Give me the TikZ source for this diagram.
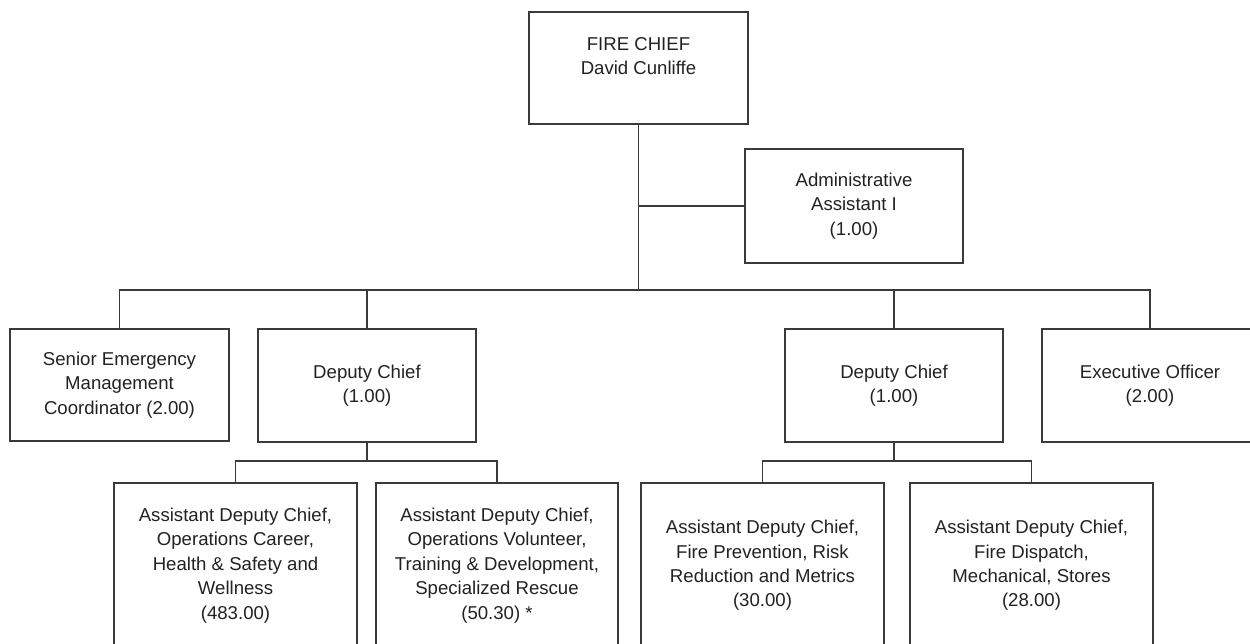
\documentclass[tikz,border=0pt]{standalone}
\usepackage{fontspec}
\setmainfont{Liberation Sans}
\definecolor{linec}{HTML}{3A3A3A}
\definecolor{textc}{HTML}{222222}
\begin{document}
\begin{tikzpicture}[x=1pt,y=-1pt,
  box/.style={draw=linec, line width=1.6pt, fill=white, inner sep=0pt, align=center,
    font=\fontsize{18.6}{24.4}\selectfont, text=textc},
  conn/.style={draw=linec, line width=1.6pt}]
\clip (0,0) rectangle (1250,644);
\fill[white] (0,0) rectangle (1250,644);
% nodes
\node[box, minimum width=219pt, minimum height=112pt] (chief) at (638.5,68) {FIRE CHIEF\\David Cunliffe\\\mbox{}};
\node[box, minimum width=218pt, minimum height=114pt] (admin) at (854,206) {Administrative\\Assistant I\\(1.00)};
\node[box, minimum width=219pt, minimum height=112pt] (senior) at (119.5,385) {Senior Emergency\\Management\\Coordinator (2.00)};
\node[box, minimum width=218pt, minimum height=113pt] (depL) at (367,385.5) {Deputy Chief\\(1.00)};
\node[box, minimum width=218pt, minimum height=113pt] (depR) at (894,385.5) {Deputy Chief\\(1.00)};
\node[box, minimum width=216pt, minimum height=113pt] (exec) at (1150,385.5) {Executive Officer\\(2.00)};
\node[box, minimum width=243pt, minimum height=165pt] (b1) at (235.5,565.5) {Assistant Deputy Chief,\\Operations Career,\\Health \& Safety and\\Wellness\\(483.00)};
\node[box, minimum width=242pt, minimum height=165pt] (b2) at (497,565.5) {Assistant Deputy Chief,\\Operations Volunteer,\\Training \& Development,\\Specialized Rescue\\(50.30) *};
\node[box, minimum width=243pt, minimum height=165pt] (b3) at (762.5,565.5) {Assistant Deputy Chief,\\Fire Prevention, Risk\\Reduction and Metrics\\(30.00)};
\node[box, minimum width=243pt, minimum height=165pt] (b4) at (1031.5,565.5) {Assistant Deputy Chief,\\Fire Dispatch,\\Mechanical, Stores\\(28.00)};
% bus levels
\coordinate (busy) at (0,290);
\coordinate (subl) at (0,461);
% connectors
\draw[conn] (chief.south) -- (chief.south |- busy);
\draw[conn] (admin.west) -- (admin.west -| chief.south);
\draw[conn] (senior.north) -- (senior.north |- busy) -- (exec.north |- busy) -- (exec.north);
\draw[conn] (depL.north) -- (depL.north |- busy);
\draw[conn] (depR.north) -- (depR.north |- busy);
\draw[conn] (depL.south) -- (depL.south |- subl);
\draw[conn] (b1.north) -- (b1.north |- subl) -- (b2.north |- subl) -- (b2.north);
\draw[conn] (depR.south) -- (depR.south |- subl);
\draw[conn] (b3.north) -- (b3.north |- subl) -- (b4.north |- subl) -- (b4.north);
\end{tikzpicture}
\end{document}
